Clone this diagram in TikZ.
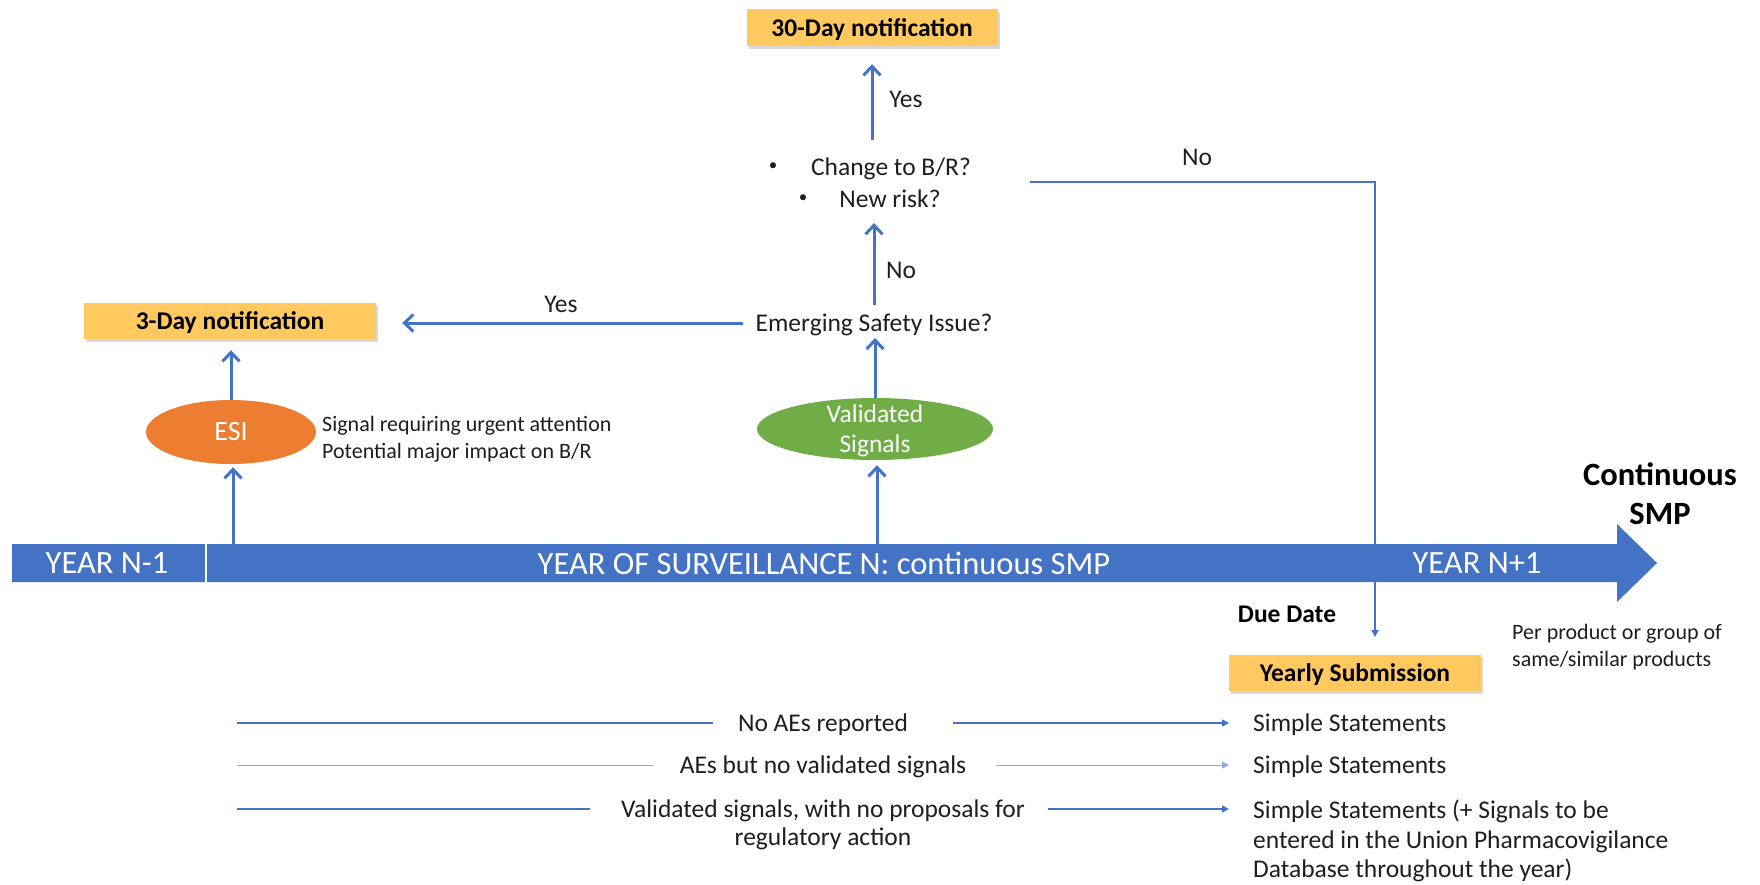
\documentclass[tikz,border=0pt]{standalone}
\usepackage{fontspec}
\setmainfont{Carlito}
\usetikzlibrary{arrows.meta,shadows,shapes.geometric}
\definecolor{cblue}{HTML}{4472C4}
\definecolor{clblue}{HTML}{8FAADC}
\definecolor{corange}{HTML}{ED7D31}
\definecolor{cgreen}{HTML}{70AD47}
\definecolor{cgold}{HTML}{FFC95F}
\definecolor{ctext}{HTML}{1E1E1E}
\begin{document}
\begin{tikzpicture}[x=1pt,y=-1pt,
  txt/.style={inner sep=0pt, text depth=0pt, text=ctext, font=\fontsize{25.5}{30}\selectfont},
  bultxt/.style={inner sep=0pt, text=ctext, font=\fontsize{17}{20}\selectfont},
  smalltxt/.style={inner sep=0pt, text depth=0pt, text=ctext, align=left, font=\fontsize{22}{27}\selectfont},
  goldbox/.style={fill=cgold, minimum height=37pt, inner sep=0pt, text depth=0pt, text=black,
    font=\fontsize{25.5}{30}\selectfont\bfseries,
    drop shadow={shadow xshift=2pt, shadow yshift=-3pt, opacity=0.3}},
  bigarr/.style={draw=cblue, line width=3pt, -{Straight Barb[length=9pt,width=17pt]}},
  thinarr/.style={draw=cblue, line width=1.5pt, -{Triangle[length=7pt,width=7pt]}},
  bartxt/.style={text=white, inner sep=0pt, font=\fontsize{32.5}{36}\selectfont},
  ellshape/.style={ellipse, inner sep=0pt},
  elltxt/.style={text=white, inner sep=0pt, align=center, font=\fontsize{25.5}{30}\selectfont}
]
\useasboundingbox (0,0) rectangle (1760,884);

% ---- notification boxes ----
\node[goldbox, minimum width=251pt] (d30) at (872,27.5) {30-Day notification};
\node[goldbox, minimum width=292pt, minimum height=36pt] (d3) at (230,321) {3-Day notification};
\node[goldbox, minimum width=252pt, minimum height=36pt] (yearly) at (1355,673) {Yearly Submission};

% ---- questions ----
\node[bultxt] (bul1) at (773,167) {\textbullet};
\node[txt] (chg) at (891,167) {Change to B/R?};
\node[bultxt] (bul2) at (803,199) {\textbullet};
\node[txt] (newr) at (890,199) {New risk?};
\node[txt] (esq) at (874,323) {Emerging Safety Issue?};

% ---- ellipses ----
\node[ellshape, fill=corange, minimum width=170pt, minimum height=64pt] (esi) at (231,432) {};
\node[elltxt, font=\fontsize{28}{30}\selectfont] (esit) at (esi) {ESI};
\node[ellshape, fill=cgreen, minimum width=236pt, minimum height=62pt] (vs) at (875,429) {};
\node[elltxt] (vst) at (875,431) {Validated\\Signals};
\node[smalltxt, anchor=west] (esidesc) at (322,437) {Signal requiring urgent attention\\Potential major impact on B/R};

% ---- timeline bar ----
\fill[cblue] (12,544) -- (1617,544) -- (1617,524) -- (1657,563) -- (1617,602) -- (1617,582) -- (12,582) -- cycle;
\draw[white, line width=1.5pt] (206,544) -- (206,582);
\node[bartxt] (yn1) at (107,563) {YEAR N-1};
\node[bartxt] (yn) at (824,563) {YEAR OF SURVEILLANCE N: continuous SMP};
\node[bartxt] (ynp1) at (1477,563) {YEAR N+1};
\node[inner sep=0pt, align=center, text=black, font=\fontsize{32.5}{39}\selectfont\bfseries] (csmp) at (1660,494) {Continuous\\SMP};
\node[txt, text=black, font=\fontsize{25.5}{30}\selectfont\bfseries] (due) at (1287,614) {Due Date};
\node[smalltxt, anchor=west] (perprod) at (1512,645) {Per product or group of\\same/similar products};

% ---- labels ----
\node[txt] (yes1) at (906,99) {Yes};
\node[txt] (no1) at (901,270) {No};
\node[txt] (no2) at (1197,157) {No};
\node[txt] (yes2) at (561,304) {Yes};

% ---- connectors ----
\coordinate (yesbase) at (872,140);
\coordinate (baresi) at (233,544);
\coordinate (barvs) at (877,544);
\coordinate (nostart) at (1030,182);
\coordinate (duetip) at (1375,637);
\draw[bigarr, shorten >=18pt] (yesbase) -- (d30.south);
\draw[bigarr, shorten <=9pt, shorten >=15pt] (esq.north) -- (esq.north |- newr.south);
\draw[bigarr, shorten >=6pt] (vs.north) -- (vs.north |- esq.south);
\draw[bigarr, shorten >=5pt] (barvs) -- (barvs |- vs.south);
\draw[bigarr, shorten <=12pt, shorten >=26pt] (esq.west) -- (esq.west -| d3.east);
\draw[bigarr, shorten >=11pt] (esi.north) -- (esi.north |- d3.south);
\draw[bigarr, shorten >=3pt] (baresi) -- (baresi |- esi.south);
\draw[thinarr, line width=2pt] (nostart) -| (duetip);

% ---- bottom rows ----
\coordinate (r1s) at (237,723);
\coordinate (r2s) at (237,765);
\coordinate (r3s) at (237,809);
\node[txt] (r1t) at (823,723) {No AEs reported};
\node[txt] (r2t) at (823,765) {AEs but no validated signals};
\node[txt, align=center, font=\fontsize{25.5}{28}\selectfont] (r3t) at (823,823) {Validated signals, with no proposals for\\regulatory action};
\node[txt, anchor=west] (r1r) at (1253,723) {Simple Statements};
\node[txt, anchor=west] (r2r) at (1253,765) {Simple Statements};
\node[txt, anchor=west, align=left, font=\fontsize{25.5}{29.5}\selectfont] (r3r) at (1253,839) {Simple Statements (+ Signals to be\\entered in the Union Pharmacovigilance\\Database throughout the year)};

\draw[cblue, line width=1.5pt, shorten >=25pt] (r1s) -- (r1t.west);
\draw[thinarr, shorten <=45pt, shorten >=24pt] (r1t.east) -- (r1r.west);
\draw[clblue, line width=1pt, shorten >=27pt] (r2s) -- (r2t.west);
\draw[thinarr, draw=clblue, line width=1pt, shorten <=30pt, shorten >=24pt] (r2t.east) -- (r2r.west);
\draw[cblue, line width=2.5pt, shorten >=31pt] (r3s) -- (r3s -| r3t.west);
\draw[thinarr, line width=2.5pt, shorten <=23pt, shorten >=24pt] (r3s -| r3t.east) -- (r3s -| r3r.west);
\end{tikzpicture}
\end{document}
